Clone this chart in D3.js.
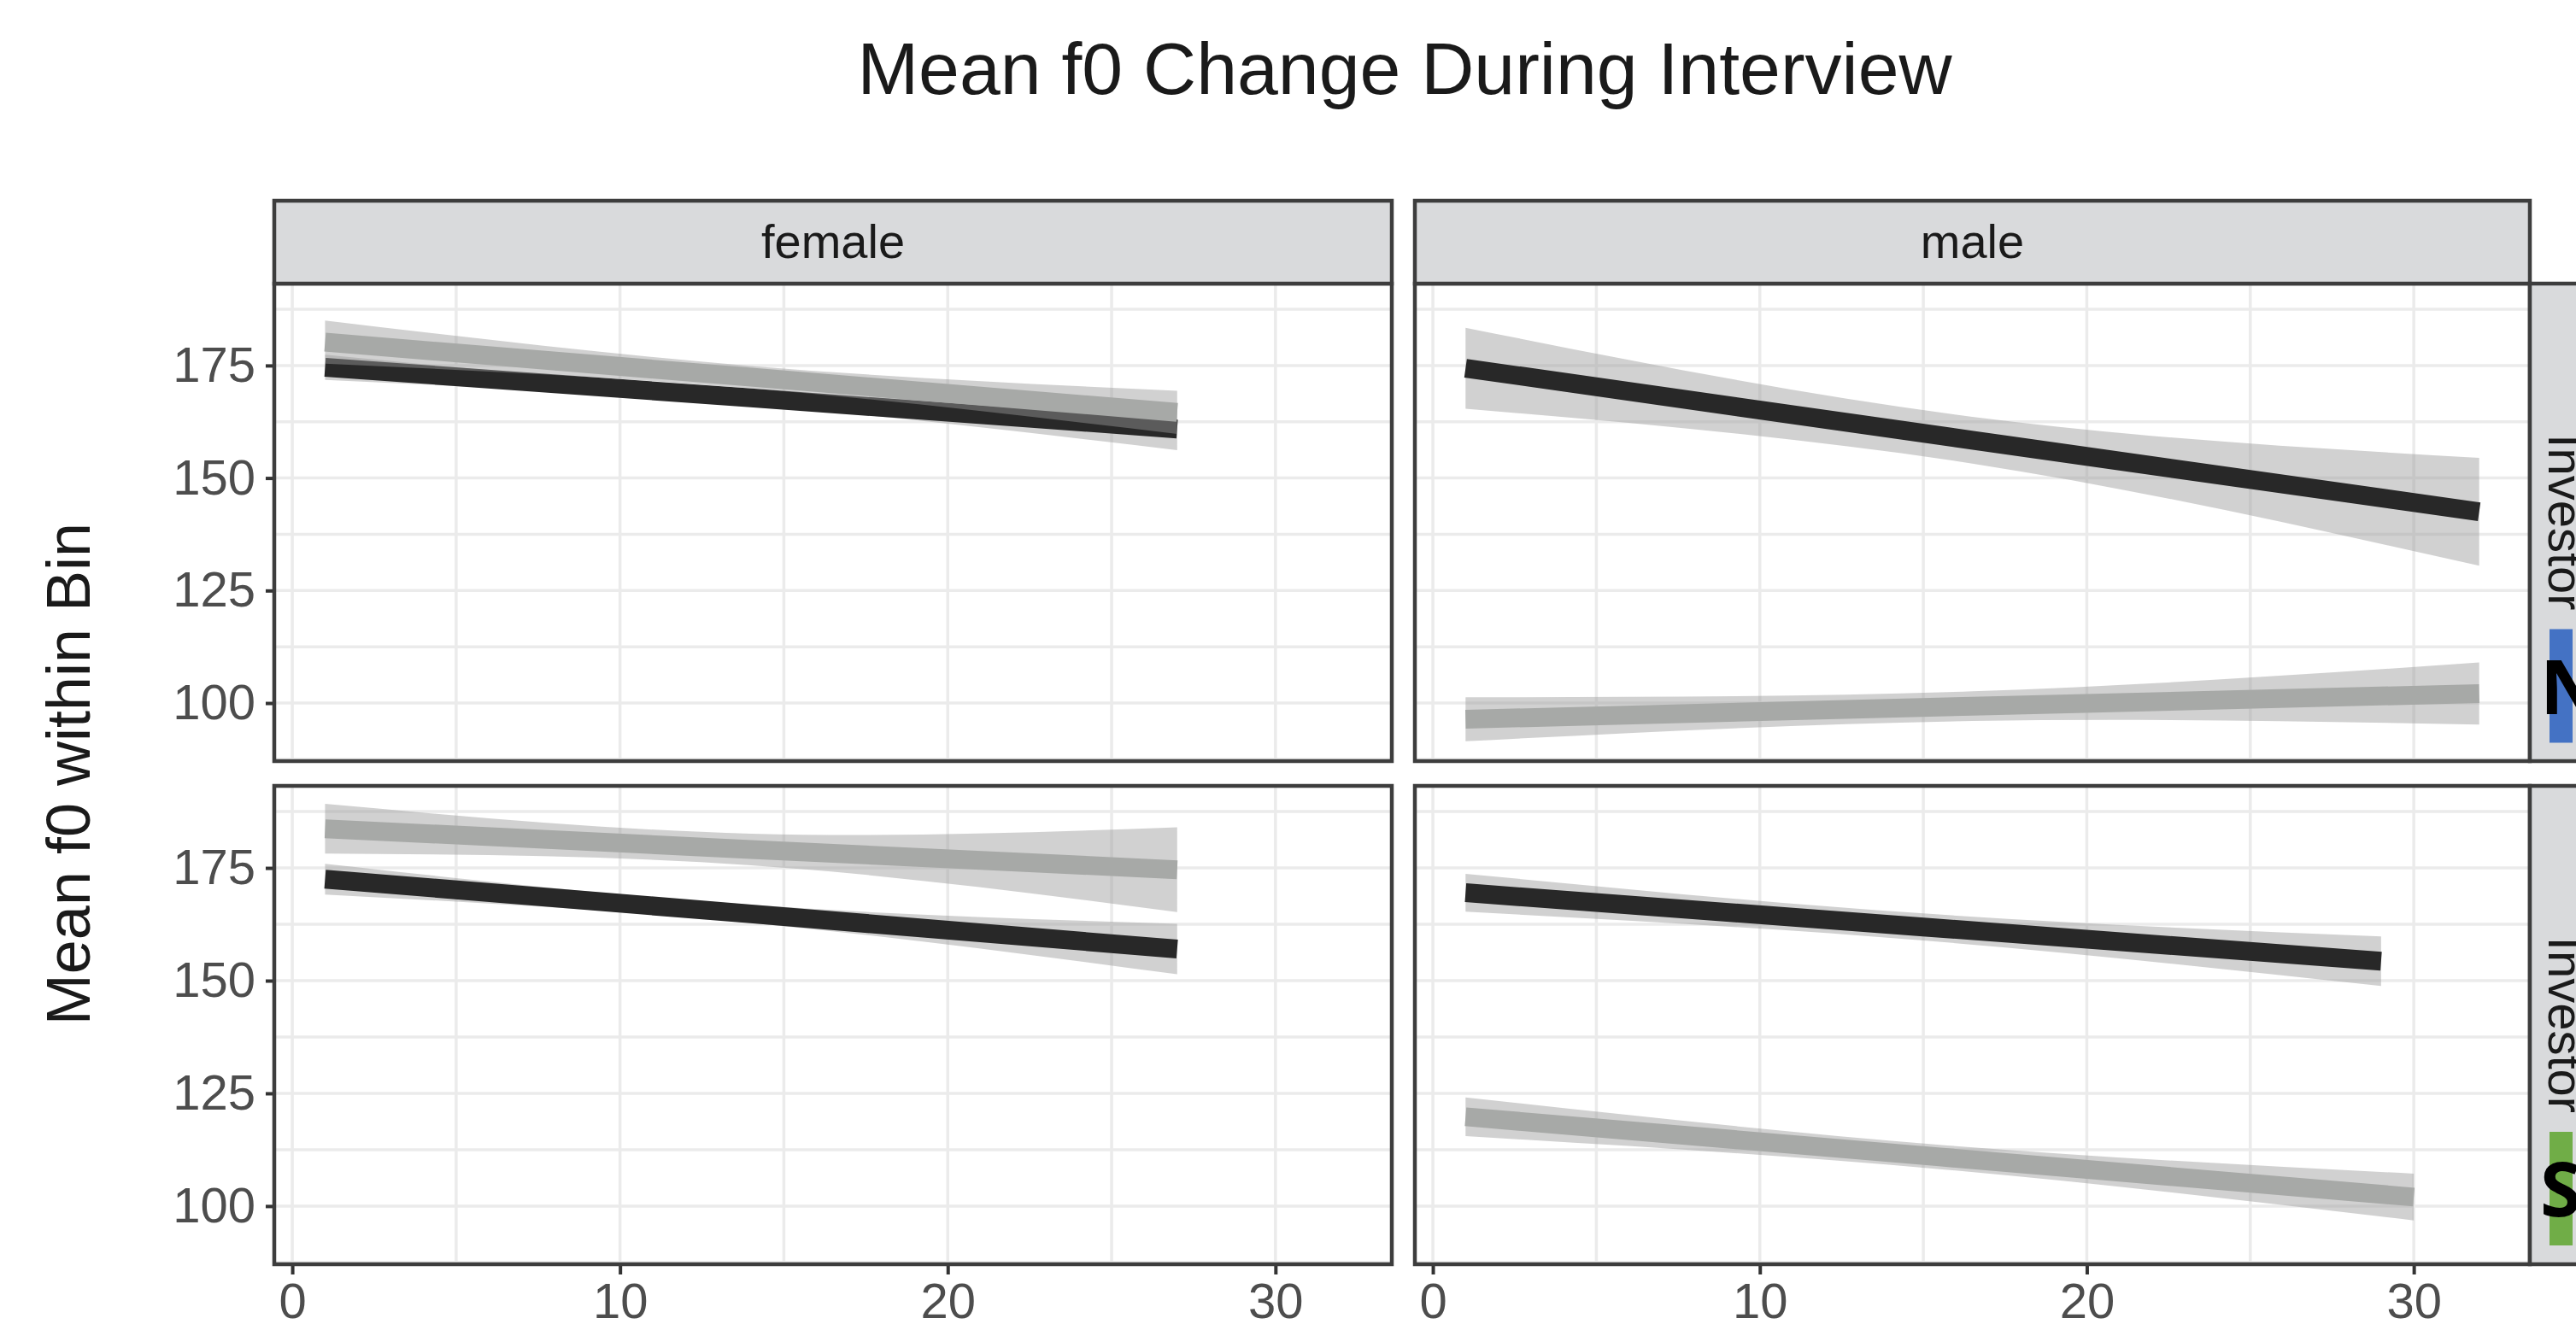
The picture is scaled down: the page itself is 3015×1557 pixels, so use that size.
<!DOCTYPE html>
<html>
<head>
<meta charset="utf-8">
<script src="https://cdn.jsdelivr.net/npm/d3@7"></script>
<style>
body { margin: 0; background: #fff; }
svg { display: block; }
</style>
</head>
<body>
<div id="chart"></div>
<script>
// facet labels
var genders = ["female", "male"];
var roles = ["Investor", "Investor"];
var badges = ["N", "S"];
var badgeColors = ["#4472C4", "#70AD47"];
var xTicks = [0, 10, 20, 30];
var yTicks = [100, 125, 150, 175];

// each row: [time bin, fitted f0, lower CI, upper CI]
var femaleTopDark   = [[1, 174.6, 171.8, 177.4], [14, 167.8, 166.3, 169.3], [27, 160.9, 156.2, 165.6]];
var femaleTopLight  = [[1, 180.2, 175.4, 185.0], [14, 172.4, 169.9, 174.9], [27, 164.6, 159.8, 169.4]];
var maleTopDark     = [[1, 174.4, 165.4, 183.4], [16.5, 158.4, 153.2, 163.6], [32, 142.5, 130.5, 154.5]];
var maleTopLight    = [[1, 96.4, 91.5, 101.3], [16.5, 99.3, 96.0, 102.6], [32, 102.1, 95.2, 109.0]];
var femaleBotDark   = [[1, 172.5, 169.1, 175.9], [14, 164.8, 162.8, 166.8], [27, 157.0, 151.4, 162.6]];
var femaleBotLight  = [[1, 183.7, 178.2, 189.2], [14, 179.1, 175.6, 182.6], [27, 174.6, 165.2, 184.0]];
var maleBotDark     = [[1, 169.5, 165.3, 173.7], [15, 161.9, 158.9, 164.9], [29, 154.3, 148.8, 159.8]];
var maleBotLight    = [[1, 119.8, 115.5, 124.1], [15.5, 110.9, 108.2, 113.6], [30, 102.0, 96.8, 107.2]];

var panels = [
    {row: 0, col: 0, dark: femaleTopDark, light: femaleTopLight},
    {row: 0, col: 1, dark: maleTopDark, light: maleTopLight},
    {row: 1, col: 0, dark: femaleBotDark, light: femaleBotLight},
    {row: 1, col: 1, dark: maleBotDark, light: maleBotLight}
];

var width = 3015;
var height = 1557;
var colX = [[321, 1629], [1656, 2961]];
var rowY = [[332, 891], [920, 1480]];
var stripTop = 235;
var stripSize = 97;
var BORDER = "#3D3D3D";
var FONT = "'Liberation Sans', Arial, sans-serif";

var svg = d3.select("#chart")
            .append("svg")
            .attr("width", width)
            .attr("height", height);

svg.append("rect")
   .attr("width", width)
   .attr("height", height)
   .attr("fill", "#fff");

svg.append("text")
   .attr("x", 1644)
   .attr("y", 110)
   .attr("text-anchor", "middle")
   .attr("font-family", FONT)
   .attr("font-size", 86)
   .attr("fill", "#1A1A1A")
   .text("Mean f0 Change During Interview");

svg.append("text")
   .attr("transform", "translate(80,906) rotate(-90)")
   .attr("text-anchor", "middle")
   .attr("dy", "0.35em")
   .attr("font-family", FONT)
   .attr("font-size", 72)
   .attr("fill", "#1A1A1A")
   .text("Mean f0 within Bin");

panels.forEach(function(p, i){
    var x = d3.scaleLinear().domain([-0.55, 33.55]).range(colX[p.col]);
    var y = d3.scaleLinear().domain([87.1, 193.2]).range([rowY[p.row][1], rowY[p.row][0]]);
    var g = svg.append("g");

    g.append("clipPath").attr("id", "clip" + i)
     .append("rect")
     .attr("x", colX[p.col][0]).attr("y", rowY[p.row][0])
     .attr("width", colX[p.col][1] - colX[p.col][0])
     .attr("height", rowY[p.row][1] - rowY[p.row][0]);

    // grid
    g.selectAll(".gx").data(d3.range(0, 33, 5)).enter().append("line")
     .attr("x1", function(d){ return x(d); }).attr("x2", function(d){ return x(d); })
     .attr("y1", rowY[p.row][0]).attr("y2", rowY[p.row][1])
     .attr("stroke", "#EBEBEB").attr("stroke-width", 3.5);
    g.selectAll(".gy").data(d3.range(87.5, 193, 12.5)).enter().append("line")
     .attr("y1", function(d){ return y(d); }).attr("y2", function(d){ return y(d); })
     .attr("x1", colX[p.col][0]).attr("x2", colX[p.col][1])
     .attr("stroke", "#EBEBEB").attr("stroke-width", 3.5);

    var area = d3.area()
        .x(function(d){ return x(d[0]); })
        .y0(function(d){ return y(d[2]); })
        .y1(function(d){ return y(d[3]); })
        .curve(d3.curveNatural);
    var line = d3.line()
        .x(function(d){ return x(d[0]); })
        .y(function(d){ return y(d[1]); });

    var marks = g.append("g").attr("clip-path", "url(#clip" + i + ")");
    [[p.dark, "#282828"], [p.light, "#A7A9A7"]].forEach(function(s){
        marks.append("path").attr("d", area(s[0]))
             .attr("fill", "#999").attr("fill-opacity", 0.45);
        marks.append("path").attr("d", line(s[0]))
             .attr("fill", "none").attr("stroke", s[1]).attr("stroke-width", 22);
    });

    if (p.col == 0) {
        var ay = g.append("g").attr("transform", "translate(" + colX[0][0] + ",0)")
                  .call(d3.axisLeft(y).tickValues(yTicks).tickSize(10).tickPadding(12));
        ay.select(".domain").remove();
        ay.selectAll("line").attr("stroke", "#333").attr("stroke-width", 4);
        ay.selectAll("text").attr("font-family", FONT).attr("font-size", 58).attr("fill", "#4D4D4D");
    }
    if (p.row == 1) {
        var ax = g.append("g").attr("transform", "translate(0," + rowY[1][1] + ")")
                  .call(d3.axisBottom(x).tickValues(xTicks).tickSize(12).tickPadding(10));
        ax.select(".domain").remove();
        ax.selectAll("line").attr("stroke", "#333").attr("stroke-width", 4);
        ax.selectAll("text").attr("font-family", FONT).attr("font-size", 58).attr("fill", "#4D4D4D");
    }

    g.append("rect")
     .attr("x", colX[p.col][0]).attr("y", rowY[p.row][0])
     .attr("width", colX[p.col][1] - colX[p.col][0])
     .attr("height", rowY[p.row][1] - rowY[p.row][0])
     .attr("fill", "none").attr("stroke", BORDER).attr("stroke-width", 4.5);
});

// top strips
genders.forEach(function(name, c){
    svg.append("rect")
       .attr("x", colX[c][0]).attr("y", stripTop)
       .attr("width", colX[c][1] - colX[c][0]).attr("height", stripSize)
       .attr("fill", "#D9DADC").attr("stroke", BORDER).attr("stroke-width", 4.5);
    svg.append("text")
       .attr("x", (colX[c][0] + colX[c][1]) / 2).attr("y", 302)
       .attr("text-anchor", "middle")
       .attr("font-family", FONT).attr("font-size", 56).attr("fill", "#1A1A1A")
       .text(name);
});

// right strips and badges (cut by the page edge, as in the source)
roles.forEach(function(name, r){
    var mid = (rowY[r][0] + rowY[r][1]) / 2;
    svg.append("rect")
       .attr("x", colX[1][1]).attr("y", rowY[r][0])
       .attr("width", stripSize).attr("height", rowY[r][1] - rowY[r][0])
       .attr("fill", "#D9DADC").attr("stroke", BORDER).attr("stroke-width", 4.5);
    svg.append("text")
       .attr("transform", "translate(3003," + mid + ") rotate(90)")
       .attr("text-anchor", "middle").attr("dy", "0.35em")
       .attr("font-family", FONT).attr("font-size", 58).attr("fill", "#1A1A1A")
       .text(name);
    svg.append("rect")
       .attr("x", 2984).attr("y", mid + 125)
       .attr("width", 27).attr("height", 133)
       .attr("fill", badgeColors[r]);
    svg.append("text")
       .attr("x", 2973).attr("y", mid + 224)
       .attr("font-family", "'Noto Sans', 'DejaVu Sans', sans-serif")
       .attr("font-weight", "bold").attr("font-size", 88).attr("fill", "#000")
       .text(badges[r]);
});
</script>
</body>
</html>
